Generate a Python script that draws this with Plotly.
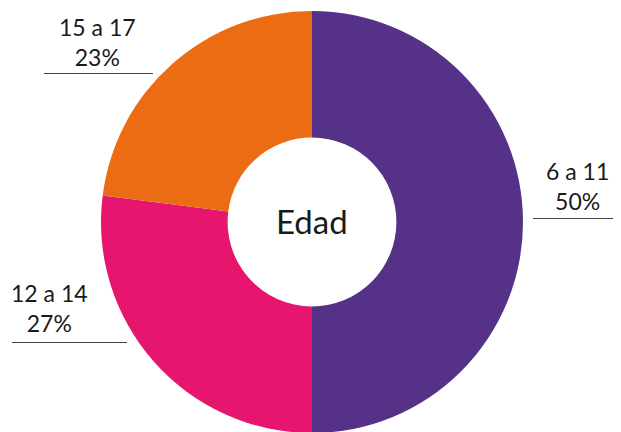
import plotly.graph_objects as go

categories = ["6 a 11", "12 a 14", "15 a 17"]
values = [50, 27, 23]
colors = ["#553287", "#E6156E", "#EC6C14"]
center_label = "Edad"

total = sum(values)
pct = [round(v * 100 / total) for v in values]

fig = go.Figure(go.Pie(
    labels=categories,
    values=values,
    hole=0.4,
    sort=False,
    direction="clockwise",
    rotation=0,
    marker=dict(colors=colors, line=dict(width=0)),
    textinfo="none",
    hoverinfo="label+percent",
    domain=dict(x=[93/621, 515/621], y=[4/432, 1.0]),
    showlegend=False,
))

W, H = 621, 432
OFF = 8  # page body margin offset
font = dict(family="Lato, 'Open Sans', sans-serif", size=23, color="#1a1a1a")

# label placement (screen pixel positions) and underline extents
label_pos = [
    (577, 186, 533, 640, 218),   # 6 a 11
    (49, 308, 12, 127, 342),     # 12 a 14
    (97, 42, 44, 153, 73),       # 15 a 17
]

def px(x):
    return (x - OFF) / W

def py(y):
    return 1 - (y - OFF) / H

annotations = []
shapes = []
for cat, p, (cx, cy, lx0, lx1, ly) in zip(categories, pct, label_pos):
    annotations.append(dict(
        x=px(cx), y=py(cy), xref="paper", yref="paper",
        text=f"{cat}<br>{p}%", showarrow=False, align="center",
        xanchor="center", yanchor="middle", font=font,
    ))
    shapes.append(dict(
        type="line", xref="paper", yref="paper",
        x0=px(lx0), x1=min(px(lx1), 1.0), y0=py(ly + 0.5), y1=py(ly + 0.5),
        line=dict(color="#444444", width=1),
    ))

annotations.append(dict(
    x=px(312), y=py(221), xref="paper", yref="paper",
    text=center_label, showarrow=False, xanchor="center", yanchor="middle",
    font=dict(family="Lato, 'Open Sans', sans-serif", size=33, color="#1a1a1a"),
))

fig.update_layout(
    width=W, height=H,
    margin=dict(l=0, r=0, t=0, b=0),
    paper_bgcolor="white",
    plot_bgcolor="white",
    annotations=annotations,
    shapes=shapes,
)

fig.write_html("out.html")
